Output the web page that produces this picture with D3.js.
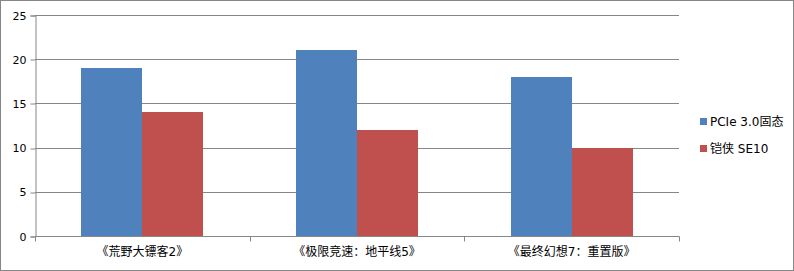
<!DOCTYPE html>
<html><head><meta charset="utf-8">
<script src="https://cdn.jsdelivr.net/npm/d3@7/dist/d3.min.js"></script>
<style>body{margin:0;background:#fff;} svg{display:block;} text{font-family:"DejaVu Sans","Noto Sans CJK SC",sans-serif;font-size:11px;fill:#000;}</style>
</head><body><svg id="c" width="794" height="271"></svg>
<script>
const categories = ["《荒野大镖客2》", "《极限竞速：地平线5》", "《最终幻想7：重置版》"];
const seriesNames = ["PCIe 3.0固态", "铠侠 SE10"];
const pcieValues = [19, 21, 18];
const se10Values = [14, 12, 10];
const yTicks = [0, 5, 10, 15, 20, 25];
const colors = ["#4F81BD", "#C0504D"];

(function(){
const svg = d3.select("#c");
svg.append("rect").attr("x",0.5).attr("y",0.5).attr("width",793).attr("height",270)
  .attr("fill","#fff").attr("stroke","#868686");

const pl = 35, pr = 679, pt = 15, pb = 236;
const x = d3.scaleBand().domain(categories).range([pl, pr]);
const y = d3.scaleLinear().domain([0, 25]).range([pb, pt]);
const inner = d3.scaleBand().domain(seriesNames).range([0, x.bandwidth()]).paddingInner(0).paddingOuter(0.76);

svg.append("g").selectAll("line").data(yTicks.filter(d=>d>0)).join("line")
  .attr("x1", pl).attr("x2", pr)
  .attr("y1", d=>Math.round(y(d))+0.5).attr("y2", d=>Math.round(y(d))+0.5)
  .attr("stroke","#868686");

const data = [pcieValues, se10Values];
seriesNames.forEach((s, i) => {
  svg.append("g").selectAll("rect").data(categories).join("rect")
    .attr("x", c => Math.round(x(c) + inner(s)))
    .attr("width", c => Math.round(x(c) + inner(s) + inner.bandwidth()) - Math.round(x(c) + inner(s)))
    .attr("y", (c, j) => Math.round(y(data[i][j])))
    .attr("height", (c, j) => pb - Math.round(y(data[i][j])))
    .attr("fill", colors[i]);
});

const ya = svg.append("g").attr("transform", `translate(${pl+0.5},0.5)`)
  .call(d3.axisLeft(y).tickValues(yTicks).tickSize(5).tickPadding(4).tickFormat(d3.format("d")));
ya.selectAll("line").attr("transform", d => `translate(0,${Math.round(y(d)) - y(d)})`);
ya.selectAll("path,line").attr("stroke","#868686");
ya.selectAll("text").style("font-size","11px").attr("fill","#000").attr("font-family",'"DejaVu Sans",sans-serif');

const xa = svg.append("g").attr("transform", `translate(0,${pb+0.5})`);
xa.append("line").attr("x1", pl).attr("x2", pr+0.5).attr("stroke","#868686");
xa.selectAll("line.t").data([...categories.map(c=>x(c)), pr]).join("line").attr("class","t")
  .attr("x1", d=>Math.round(d)+0.5).attr("x2", d=>Math.round(d)+0.5).attr("y1",0).attr("y2",5).attr("stroke","#868686");
xa.selectAll("text").data(categories).join("text")
  .attr("x", c => x(c) + x.bandwidth()/2).attr("y", 19)
  .attr("text-anchor","middle").text(d=>d)
  .attr("font-family",'"Noto Sans CJK SC",sans-serif').style("font-size","12px");

const lg = svg.append("g");
seriesNames.forEach((s, i) => {
  const yy = 122 + i*27;
  lg.append("rect").attr("x", 700).attr("y", yy-4).attr("width", 7).attr("height", 7).attr("fill", colors[i]);
  lg.append("text").attr("x", 710).attr("y", yy+4).text(s)
    .attr("font-family",'"Noto Sans CJK SC",sans-serif').style("font-size","12px");
});
})();
</script></body></html>
